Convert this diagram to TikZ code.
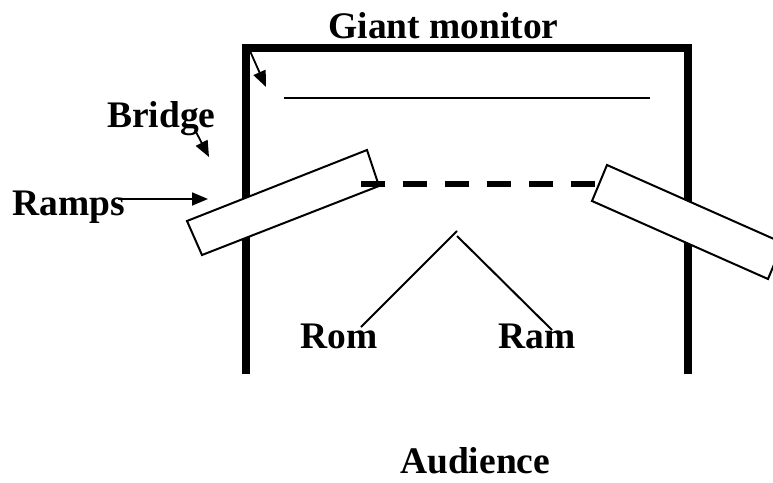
\documentclass[tikz,border=0pt]{standalone}
\usepackage{fontspec}
\setmainfont{Liberation Serif}
\usetikzlibrary{arrows.meta}
\begin{document}
\begin{tikzpicture}[x=1pt,y=-1pt,
  lbl/.style={inner sep=0pt,font=\fontsize{37.5}{40}\selectfont\bfseries},
  wall/.style={line width=7.5pt,line join=miter},
  thin/.style={line width=2pt},
  ramp/.style={line width=2pt,fill=white,line join=miter},
  ptr/.style={line width=1.8pt,-{Triangle[length=16pt,width=13pt]}},
  dashline/.style={line width=6pt,dash pattern=on 24pt off 18pt}]
\useasboundingbox (0,0) rectangle (773,482);
% frame
\draw[wall] (246,374) -- (246,48) -- (688,48) -- (688,374);
% monitor
\draw[thin] (284,98) -- (650,98);
% ramps
\draw[ramp] (187,221) -- (367,150) -- (379,186) -- (202,255) -- cycle;
\draw[ramp] (607,165) -- (783,243) -- (768,279) -- (592,201) -- cycle;
% bridge
\draw[dashline] (361,184) -- (595,184);
% labels
\node[lbl,anchor=base] (giant) at (443.5,38) {Giant monitor};
\node[lbl,anchor=base west] (bridge) at (107,127) {Bridge};
\node[lbl,anchor=base west] (ramps) at (12,215) {Ramps};
\node[lbl,anchor=base west] (rom) at (300,348) {Rom};
\node[lbl,anchor=base west] (ram) at (498,348) {Ram};
\node[lbl,anchor=base west] (aud) at (400,473) {Audience};
% pointer coordinates
\coordinate (rampsS) at (118,199);
\coordinate (rampsT) at (208,199);
\coordinate (bridgeS) at (195,130);
\coordinate (bridgeT) at (209,157);
\coordinate (monS) at (250,51);
\coordinate (monT) at (266,87);
\coordinate (apexL) at (457,231);
\coordinate (apexR) at (457,236);
\coordinate (romT) at (361,327);
\coordinate (ramT) at (552,330);
\draw[ptr] (rampsS) -- (rampsT);
\draw[ptr] (bridgeS) -- (bridgeT);
\draw[ptr] (monS) -- (monT);
\draw[thin] (apexL) -- (romT);
\draw[thin] (apexR) -- (ramT);
\end{tikzpicture}
\end{document}
